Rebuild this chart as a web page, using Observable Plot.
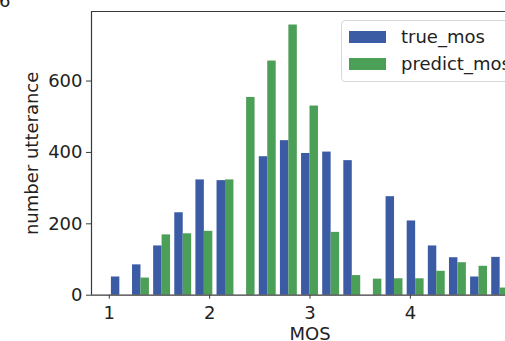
<!DOCTYPE html>
<html>
<head>
<meta charset="utf-8">
<script src="https://cdn.jsdelivr.net/npm/d3@7"></script>
<script src="https://cdn.jsdelivr.net/npm/@observablehq/plot@0.6"></script>
<style>
  html, body { margin: 0; padding: 0; background: #fff; }
  body { width: 505px; height: 341px; overflow: hidden; position: relative; font-family: "DejaVu Sans", sans-serif; }
  #chart { position: absolute; left: 0; top: 0; }
  #frag { position: absolute; left: -1px; top: -8px; font-size: 18px; line-height: 18px; color: #222; }
  #legend { position: absolute; left: 341px; top: 20px; width: 200px; height: 60px; border: 1px solid #d8d8d8; border-radius: 4px; background: rgba(255,255,255,0.85); }
  .item { position: absolute; left: 7px; font-size: 18px; line-height: 18px; color: #222; }
  .sw { position: absolute; left: 0; width: 37px; height: 12px; }
  .lab { position: absolute; left: 52px; white-space: nowrap; }
</style>
</head>
<body>
<div id="chart"></div>
<div id="frag">6</div>
<div id="legend"></div>
<script>
// Histogram bins: 19 equal bins on [1, 5]
const binLo = 1, binHi = 5, nBins = 19;
const seriesNames = ["true_mos", "predict_mos"];
const seriesColors = ["#3b5ca5", "#4b9f56"];
const trueMos    = [51, 85, 138, 231, 323, 321, 0, 388, 433, 397, 401, 377, 0, 276, 208, 138, 105, 51, 106];
const predictMos = [0, 48, 169, 172, 179, 323, 554, 656, 757, 530, 176, 55, 45, 46, 46, 67, 91, 81, 20];
const xTicks = [1, 2, 3, 4];
const yTicks = [0, 200, 400, 600];

const w = (binHi - binLo) / nBins;
const rows = [];
[trueMos, predictMos].forEach((vals, s) => {
  vals.forEach((v, i) => {
    const lo = binLo + i * w;
    rows.push({
      series: seriesNames[s],
      x1: lo + w * (0.1 + 0.4 * s),
      x2: lo + w * (0.5 + 0.4 * s),
      value: v
    });
  });
});

const xMin = 0.8229, xMax = 5.177, yMax = 794.85;

const chart = Plot.plot({
  width: 505,
  height: 341,
  marginLeft: 91,
  marginTop: 11,
  marginBottom: 46.3,
  marginRight: 0,
  style: { fontFamily: "DejaVu Sans, sans-serif", fontSize: "18px", color: "#222", background: "white" },
  x: { type: "linear", domain: [xMin, xMax], range: [91, 528] },
  y: { domain: [0, yMax], range: [294.7, 11] },
  color: { domain: seriesNames, range: seriesColors },
  marks: [
    Plot.rect(rows, { x1: "x1", x2: "x2", y1: 0, y2: "value", fill: "series" }),
    Plot.ruleX([xMin], { y1: 0, y2: yMax, stroke: "#3a3a3a", strokeWidth: 1.2 }),
    Plot.ruleY([0, yMax], { x1: xMin, x2: xMax, stroke: "#3a3a3a", strokeWidth: 1.2 }),
    Plot.axisX({ ticks: xTicks, tickSize: 4, tickPadding: 7, label: null, tickFormat: d3.format("d"), stroke: "#3a3a3a", fontSize: 18 }),
    Plot.axisY({ ticks: yTicks, tickSize: 5, tickPadding: 4, label: null, tickFormat: d3.format("d"), stroke: "#3a3a3a", fontSize: 18 }),
    Plot.text(["MOS"], { x: (xMin + xMax) / 2, y: 0, dy: 39, text: d => d, fontSize: 18, fill: "#222" }),
    Plot.text(["number utterance"], { x: xMin, y: yMax / 2, dx: -59, rotate: -90, text: d => d, fontSize: 18, fill: "#222" })
  ]
});
document.getElementById("chart").appendChild(chart);

const legend = document.getElementById("legend");
seriesNames.forEach((name, i) => {
  const item = document.createElement("div");
  item.className = "item";
  item.style.top = (i === 0 ? 8 : 35) + "px";
  item.innerHTML = `<div class="sw" style="top:2px;background:${seriesColors[i]}"></div><div class="lab" style="top:-1px">${name}</div>`;
  item.style.width = "190px";
  item.style.height = "18px";
  legend.appendChild(item);
});
</script>
</body>
</html>
